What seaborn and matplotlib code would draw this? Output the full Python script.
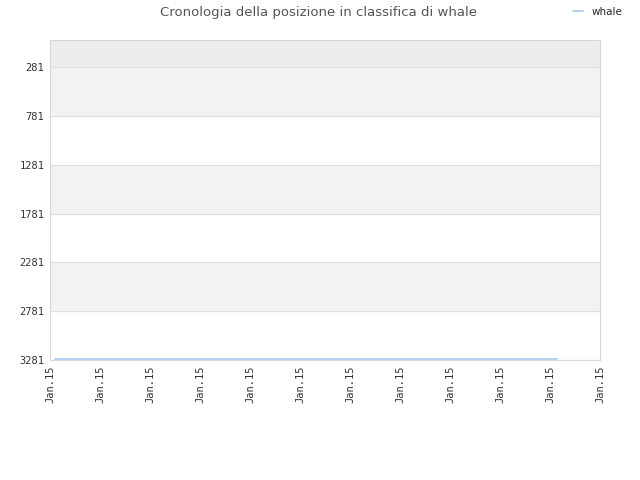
import pandas as pd
import matplotlib
matplotlib.use("Agg")
import matplotlib.pyplot as plt
import seaborn as sns

# ranking history of "whale" (all samples fall on Jan.15)
x_pos = [0.1, 2.0, 4.0, 6.0, 8.0, 10.14]
rank = [3268, 3268, 3268, 3268, 3268, 3268]
tick_pos = [0, 1, 2, 3, 4, 5, 6, 7, 8, 9, 10, 11]
tick_labels = ['Jan.15'] * 12
y_ticks = [281, 781, 1281, 1781, 2281, 2781, 3281]

df = pd.DataFrame({'x': x_pos, 'rank': rank, 'name': 'whale'})

sns.set_style('white')
fig = plt.figure(figsize=(6.4, 4.8), dpi=100)
ax = fig.add_axes([0.078, 0.25, 0.8595, 0.6667])

# alternating bands
ax.axhspan(1, 281, color='#ededed', zorder=0)
for lo, hi in [(281, 781), (1281, 1781), (2281, 2781)]:
    ax.axhspan(lo, hi, color='#f2f2f2', zorder=0)
for y in y_ticks:
    ax.axhline(y, color='#e0e0e0', lw=0.8, zorder=1)

sns.lineplot(data=df, x='x', y='rank', hue='name', palette=['#a6c8f0'],
             lw=1.2, ax=ax, zorder=3)

ax.set_xlim(0, 11)
ax.set_ylim(3281, 1)
ax.set_yticks(y_ticks)
ax.set_yticklabels([str(v) for v in y_ticks], family='DejaVu Sans Mono',
                   fontsize=7.5, color='#333333')
ax.set_xticks(tick_pos)
ax.set_xticklabels(tick_labels, rotation=90, family='DejaVu Sans Mono',
                   fontsize=7.5, color='#333333')
ax.tick_params(length=0, pad=4)
ax.set_xlabel('')
ax.set_ylabel('')
for s in ax.spines.values():
    s.set_color('#d8d8d8')
    s.set_linewidth(0.8)

fig.suptitle('Cronologia della posizione in classifica di whale', x=0.497, y=0.987,
             fontsize=9.5, color='#555555')
leg = ax.legend(loc='upper right', bbox_to_anchor=(1.058, 1.132), frameon=False,
                fontsize=7.5, handlelength=1.0, handletextpad=0.8)

fig.savefig('out.png', dpi=100)
